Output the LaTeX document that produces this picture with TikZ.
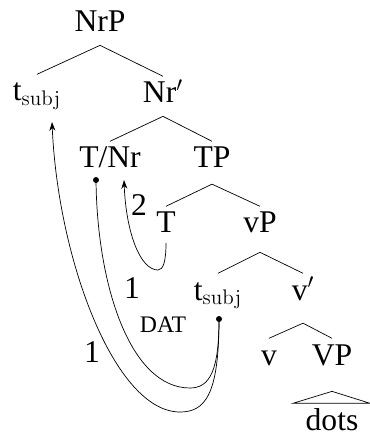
\documentclass[tikz,border=0pt]{standalone}
\usepackage[no-math]{fontspec}
\setmainfont{Liberation Serif}
\usetikzlibrary{arrows.meta,calc}

\begin{document}
\begin{tikzpicture}[x=0.02cm,y=-0.02cm,>={Stealth[length=5pt,width=3.4pt,inset=1.6pt]},
    font=\fontsize{18}{21.6}\selectfont,
    cat/.style={anchor=base,inner sep=0pt,text height=15pt,text depth=10pt},
    num/.style={inner sep=0pt}]
  \useasboundingbox (0,0) rectangle (369,438);
  % tree
  \node[cat,text depth=7.4pt] (nrp) at (100,32) {NrP};
  \node[cat] (ts1) at (37,101) {t$_{\mathrm{subj}}$};
  \node[cat,text depth=7.4pt] (nrb) at (163,103) {Nr$'$};
  \node[cat] (tnr) at (110,168) {T/Nr};
  \node[cat,text depth=9pt] (tp) at (212,168) {TP};
  \node[cat] (t) at (166,233) {T};
  \node[cat,text depth=10.8pt] (vp) at (260,233) {vP};
  \node[cat] (ts2) at (218,300) {t$_{\mathrm{subj}}$};
  \node[cat,text depth=13pt] (vb) at (303,300) {v$'$};
  \node[cat] (v) at (269,365) {v};
  \node[cat,text depth=14.8pt] (bigvp) at (332,365) {VP};
  \node[cat] (dots) at (332,430) {dots};
  \foreach \p/\c in {nrp/ts1,nrp/nrb,nrb/tnr,nrb/tp,tp/t,tp/vp,vp/ts2,vp/vb,vb/v,vb/bigvp}
    \draw (\p.south) -- (\c.north);
  \draw (bigvp.south) -- ($(dots.north)+(-39,0)$) -- ($(dots.north)+(38,0)$) -- cycle;
  % movement paths
  \coordinate (d1) at (219,319);
  \coordinate (d2) at (96,180);
  \coordinate (a1) at (52,122);
  \coordinate (a2) at (124,180);
  \coordinate (t0) at (166,243);
  \draw[->] (d1) .. controls (219,395) and (205,412) .. (180,412)
    .. controls (115,412) and (58,260) .. (a1);
  \draw (d1) .. controls (219,370) and (210,388) .. (190,388)
    .. controls (130,388) and (97,285) .. (d2);
  \draw[->] (t0) .. controls (166,262) and (163,270) .. (158,270)
    .. controls (140,270) and (126,232) .. (a2);
  \fill (d1) circle (3);
  \fill (d2) circle (3);
  % labels
  \node[num] (l1) at (92,352) {1};
  \node[num] (l2) at (132,288) {1};
  \node[num,font=\fontsize{13.5}{15}\selectfont] (dat) at (163,325) {DAT};
  \node[num] (l3) at (139,205) {2};
\end{tikzpicture}
\end{document}
